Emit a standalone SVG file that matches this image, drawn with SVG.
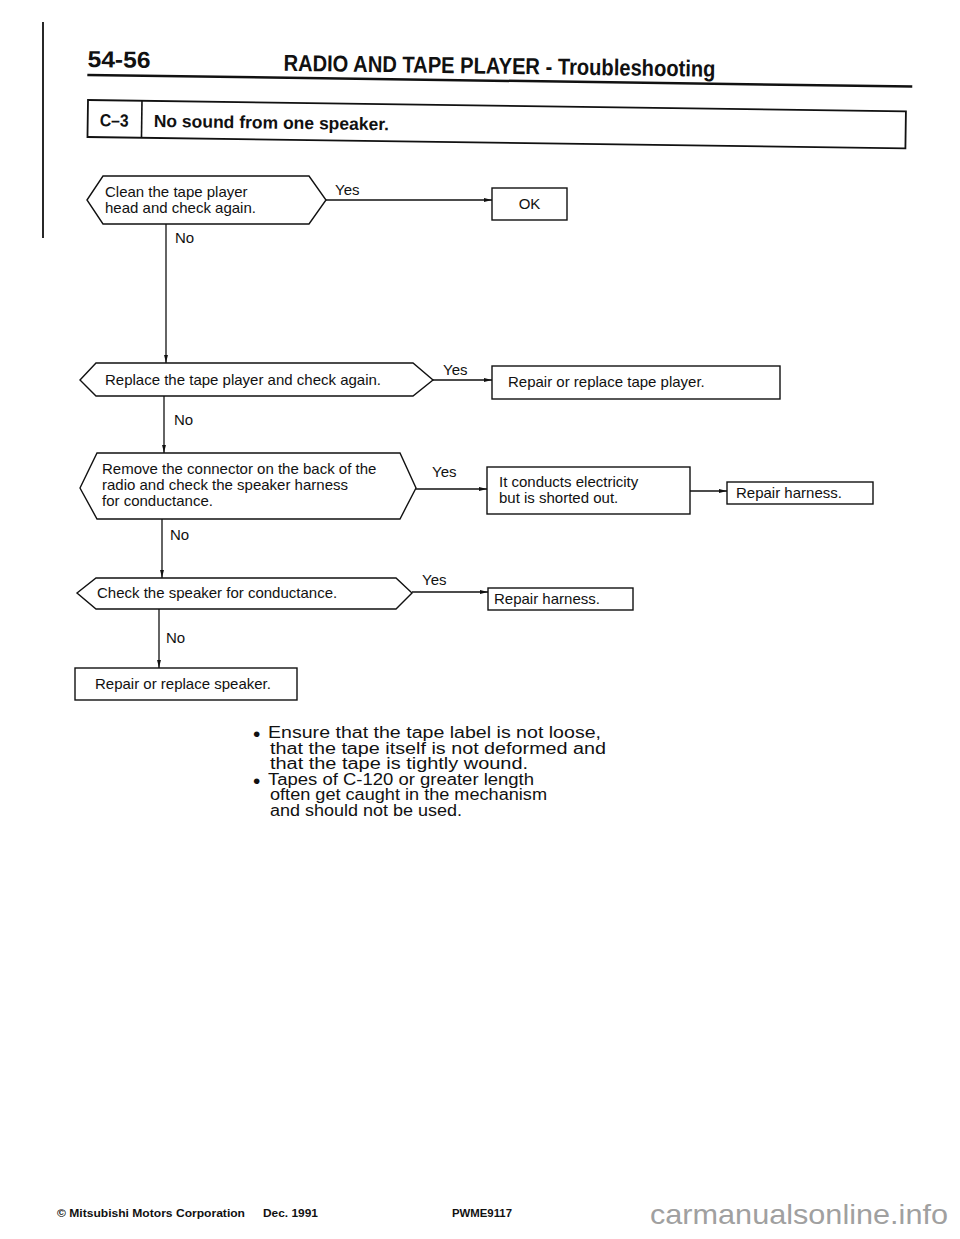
<svg xmlns="http://www.w3.org/2000/svg" width="960" height="1239" viewBox="0 0 960 1239">
<style>
.t{font-family:"Liberation Sans",Arial,sans-serif;font-size:15px;fill:#111}
.b{font-family:"Liberation Sans",Arial,sans-serif;font-weight:bold;fill:#111}
.n{font-family:"Liberation Sans",Arial,sans-serif;font-size:16px;fill:#111}
.d{font-family:"Liberation Sans",Arial,sans-serif;font-size:21px;fill:#111}
.s{fill:#fff;stroke:#111;stroke-width:1.4}
.c{fill:none;stroke:#111;stroke-width:1.3}
</style>
<defs>
<marker id="ah" viewBox="0 0 10 6" refX="10" refY="3" markerWidth="8" markerHeight="5" markerUnits="userSpaceOnUse" orient="auto">
<path d="M0,0.6 L10,3 L0,5.4 Z" fill="#111"/>
</marker>
</defs>
<rect width="960" height="1239" fill="#fff"/>
<line x1="43" y1="22" x2="43" y2="238" stroke="#111" stroke-width="1.8"/>
<g id="header" transform="rotate(0.8 88 100)">
<text class="b" x="87" y="67" font-size="23" textLength="63" lengthAdjust="spacingAndGlyphs">54-56</text>
<text class="b" x="283" y="68" font-size="23" textLength="432" lengthAdjust="spacingAndGlyphs">RADIO AND TAPE  PLAYER - Troubleshooting</text>
<line x1="87" y1="75" x2="912" y2="75" stroke="#111" stroke-width="2.5"/>
<rect x="88" y="100" width="818" height="37" fill="none" stroke="#111" stroke-width="1.8"/>
<line x1="142" y1="100" x2="142" y2="137" stroke="#111" stroke-width="1.6"/>
<text class="b" x="100" y="126" font-size="17.5" textLength="29" lengthAdjust="spacingAndGlyphs">C–3</text>
<text class="b" x="154" y="126" font-size="17.5">No sound from one speaker.</text>
</g>
<g id="connectors">
<line class="c" x1="326" y1="200" x2="492" y2="200" marker-end="url(#ah)"/>
<line class="c" x1="166" y1="224" x2="166" y2="363" marker-end="url(#ah)"/>
<line class="c" x1="433" y1="380" x2="492" y2="380" marker-end="url(#ah)"/>
<line class="c" x1="164" y1="396" x2="164" y2="453" marker-end="url(#ah)"/>
<line class="c" x1="416" y1="489" x2="487" y2="489" marker-end="url(#ah)"/>
<line class="c" x1="690" y1="491" x2="727" y2="491" marker-end="url(#ah)"/>
<line class="c" x1="162" y1="519" x2="162" y2="578" marker-end="url(#ah)"/>
<line class="c" x1="412" y1="592" x2="488" y2="592" marker-end="url(#ah)"/>
<line class="c" x1="159" y1="609" x2="159" y2="668" marker-end="url(#ah)"/>
<text class="t" x="335" y="195">Yes</text>
<text class="t" x="175" y="243">No</text>
<text class="t" x="443" y="375">Yes</text>
<text class="t" x="174" y="425">No</text>
<text class="t" x="432" y="477">Yes</text>
<text class="t" x="170" y="540">No</text>
<text class="t" x="422" y="585">Yes</text>
<text class="t" x="166" y="643">No</text>
</g>
<g id="q1">
<polygon class="s" points="87,200 103,176 309,176 326,200 309,224 103,224"/>
<text class="t" x="105" y="197">Clean the tape player</text>
<text class="t" x="105" y="213">head and check again.</text>
</g>
<g id="ok">
<rect class="s" x="492" y="188" width="75" height="32"/>
<text class="t" x="529.5" y="209" text-anchor="middle">OK</text>
</g>
<g id="q2">
<polygon class="s" points="80,380 96,363 413,363 433,380 413,396 96,396"/>
<text class="t" x="105" y="385">Replace the tape player and check again.</text>
</g>
<g id="r2">
<rect class="s" x="492" y="366" width="288" height="33"/>
<text class="t" x="508" y="387">Repair or replace tape player.</text>
</g>
<g id="q3">
<polygon class="s" points="80,488 97,453 400,453 416,488 400,519 97,519"/>
<text class="t" x="102" y="474">Remove the connector on the back of the</text>
<text class="t" x="102" y="490">radio and check the speaker harness</text>
<text class="t" x="102" y="506">for conductance.</text>
</g>
<g id="r3">
<rect class="s" x="487" y="467" width="203" height="47"/>
<text class="t" x="499" y="487">It conducts electricity</text>
<text class="t" x="499" y="503">but is shorted out.</text>
</g>
<g id="r3b">
<rect class="s" x="727" y="482" width="146" height="22"/>
<text class="t" x="736" y="498">Repair harness.</text>
</g>
<g id="q4">
<polygon class="s" points="77,593 96,578 396,578 412,593 396,609 96,609"/>
<text class="t" x="97" y="598">Check the speaker for conductance.</text>
</g>
<g id="r4">
<rect class="s" x="488" y="588" width="145" height="22"/>
<text class="t" x="494" y="604">Repair harness.</text>
</g>
<g id="r5">
<rect class="s" x="75" y="668" width="222" height="32"/>
<text class="t" x="95" y="689">Repair or replace speaker.</text>
</g>
<g id="notes">
<text class="d" x="253" y="741">•</text>
<text class="n" x="268" y="738" textLength="333" lengthAdjust="spacingAndGlyphs">Ensure that the tape label is not loose,</text>
<text class="n" x="270" y="753.6" textLength="336" lengthAdjust="spacingAndGlyphs">that the tape itself is not deformed and</text>
<text class="n" x="270" y="769.2" textLength="258" lengthAdjust="spacingAndGlyphs">that the tape is tightly wound.</text>
<text class="d" x="253" y="787.8">•</text>
<text class="n" x="268" y="784.8" textLength="266" lengthAdjust="spacingAndGlyphs">Tapes of C-120 or greater length</text>
<text class="n" x="270" y="800.4" textLength="277" lengthAdjust="spacingAndGlyphs">often get caught in the mechanism</text>
<text class="n" x="270" y="816" textLength="192" lengthAdjust="spacingAndGlyphs">and should not be used.</text>
</g>
<g id="footer">
<text class="b" x="57" y="1217" font-size="10.5" textLength="188" lengthAdjust="spacingAndGlyphs">© Mitsubishi Motors Corporation</text>
<text class="b" x="263" y="1217" font-size="10.5" textLength="55" lengthAdjust="spacingAndGlyphs">Dec. 1991</text>
<text class="b" x="452" y="1217" font-size="10.5" textLength="60" lengthAdjust="spacingAndGlyphs">PWME9117</text>
<text x="650" y="1224" font-family="Liberation Sans,Arial,sans-serif" font-size="28" fill="#a0a0a0" textLength="298" lengthAdjust="spacingAndGlyphs">carmanualsonline.info</text>
</g>
</svg>
